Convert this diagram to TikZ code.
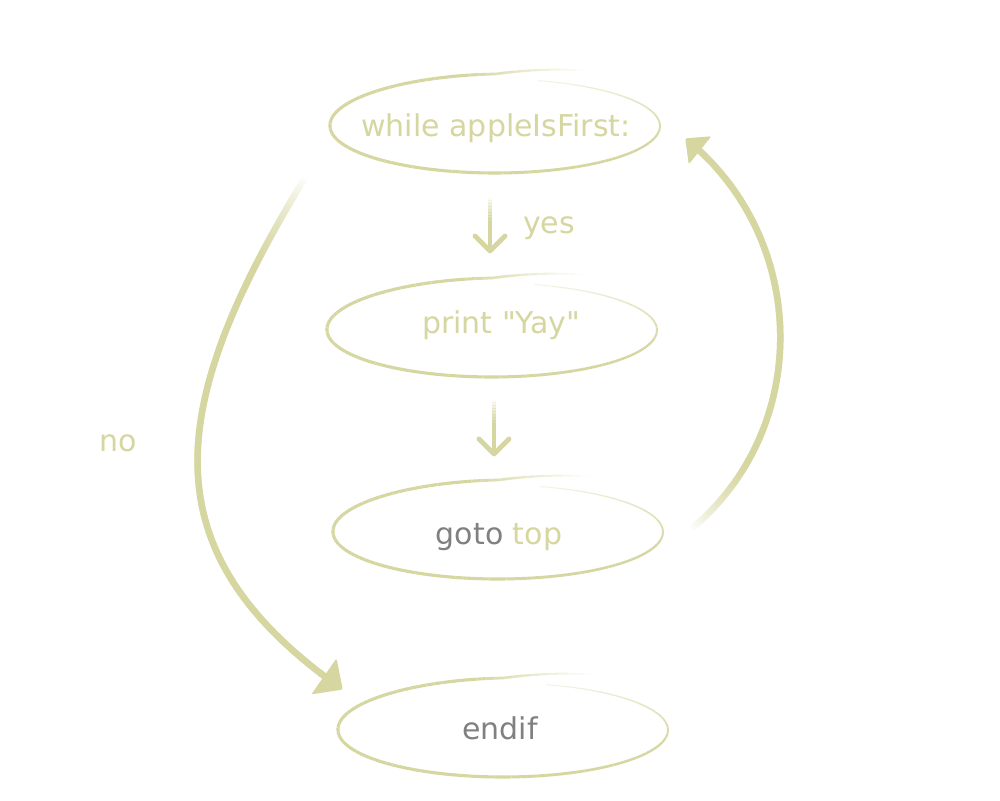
\documentclass[tikz,border=0pt]{standalone}
\usepackage{fontspec}
\newfontfamily\labelfont{DejaVu Sans}
\usetikzlibrary{calc,decorations.markings}
\definecolor{olive}{RGB}{214,214,160}
\definecolor{txtgray}{RGB}{128,128,128}
\tikzset{
  declare function={
    edr(\u)=ifthenelse(\u<90,5+(90-\u)*0.4,ifthenelse(\u<180,5*(180-\u)/90,0));
    ewid(\u)=ifthenelse(\u<100,1.5+1.6*(\u-60)/40,ifthenelse(\u<270,3.1,3.1-2.1*(\u-270)/165));
    eop(\u)=ifthenelse(\u<100,(\u-60)/40,ifthenelse(\u<340,1,1-0.75*(\u-340)/95));
  },
  lbl/.style={anchor=base, text=olive, font=\labelfont\fontsize{30}{36}\selectfont, inner sep=0pt},
  nodetext/.style={lbl, anchor=center, text height=24pt, text depth=6pt},
  fadeshaft/.style n args={3}{postaction={decorate, decoration={markings,
      mark=between positions 0 and #3 step 1.5pt with {%
        \pgfmathsetmacro\fo{min(1,\pgfkeysvalueof{/pgf/decoration/mark info/distance from start}/#2)}%
        \draw[olive, line width=#1, draw opacity=\fo, line cap=butt] (-0.4,0) -- (1.9,0);}}}},
  bighead/.style={postaction={decorate, decoration={markings,
      mark=at position -0.05pt with {\fill[olive, rounded corners=1.5pt] (1,0) -- (-#1,#1) -- (-#1,-#1) -- cycle;}}}},
  chevron/.style={postaction={decorate, decoration={markings,
      mark=at position -0.05pt with {\draw[olive, line width=4.8pt, line cap=round, line join=round] (-15,15) -- (0,0) -- (-15,-15);}}}},
}
\newcommand\sketchell[3]{%
  \begin{scope}[shift={($(#1.center)+(#2,#3)$)}]
    \foreach \t in {60,63,...,432}{%
      \pgfmathsetmacro\tb{\t+3}%
      \pgfmathsetmacro\tm{\t+1.5}%
      \pgfmathsetmacro\ra{edr(\t)}%
      \pgfmathsetmacro\rb{edr(\tb)}%
      \pgfmathsetmacro\ew{ewid(\tm)}%
      \pgfmathsetmacro\eo{eop(\tm)}%
      \draw[olive, line width=\ew pt, draw opacity=\eo, line cap=butt]
        ({(165+\ra)*cos(\t)},{-(47+\ra)*sin(\t)}) -- ({(165+\rb)*cos(\tb)},{-(47+\rb)*sin(\tb)});
    }
  \end{scope}}
\begin{document}
\begin{tikzpicture}[x=1pt,y=-1pt]
\fill[white] (0,0) rectangle (1000,800);
\useasboundingbox (0,0) rectangle (1000,800);
% nodes
\node[nodetext] (while) at (496,127) {while appleIsFirst:};
\node[nodetext] (print) at (501,324) {print "Yay"};
\node[nodetext] (goto) at (499,535) {\textcolor{txtgray}{goto} top};
\node[nodetext] (endif) at (500,730) {\textcolor{txtgray}{endif}};
\node[lbl] (yes) at (549,233) {yes};
\node[lbl] (no) at (118,451) {no};
% sketched ellipses
\sketchell{while}{-1}{-1}
\sketchell{print}{-9}{6}
\sketchell{goto}{-1}{-3}
\sketchell{endif}{3}{0}
% small arrows
\coordinate (yesS) at (490,196);
\coordinate (yesE) at (490,251);
\path[fadeshaft={4.5pt}{26}{-1pt}, chevron] (yesS) -- (yesE);
\coordinate (nextS) at (494,398);
\coordinate (nextE) at (494,454);
\path[fadeshaft={4.5pt}{26}{-1pt}, chevron] (nextS) -- (nextE);
% big arrows
\coordinate (noS) at (306,176);
\coordinate (noE) at (342,689);
\path[fadeshaft={6.5pt}{105}{-14pt}, bighead=22] (noS) .. controls (166,405) and (145,551) .. (noE);
\coordinate (backS) at (690,530);
\coordinate (backE) at (686,139);
\path[fadeshaft={6.5pt}{90}{-12pt}, bighead=18] (backS) .. controls (813,429) and (809,238) .. (backE);
\end{tikzpicture}
\end{document}
